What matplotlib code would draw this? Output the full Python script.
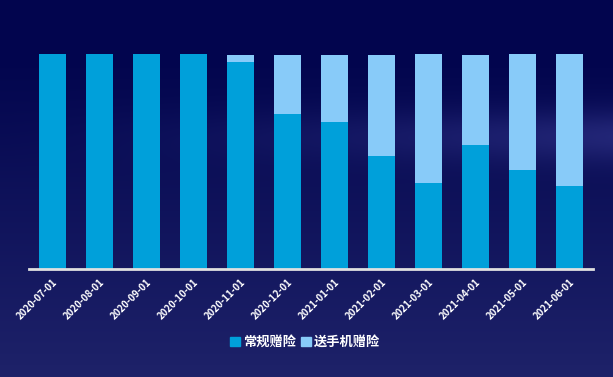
import numpy as np
import matplotlib
matplotlib.use("Agg")
import matplotlib.pyplot as plt
import matplotlib.patches as mpatches

plt.rcParams['font.family'] = ['Noto Sans CJK SC', 'DejaVu Sans']

# ── 数据 ──
months = ["2020-07-01", "2020-08-01", "2020-09-01", "2020-10-01", "2020-11-01", "2020-12-01",
          "2021-01-01", "2021-02-01", "2021-03-01", "2021-04-01", "2021-05-01", "2021-06-01"]
regular = [100, 100, 100, 100, 96.3, 72.1, 68.5, 52.6, 40.0, 57.7, 46.0, 38.6]
phone = [0, 0, 0, 0, 3.2, 27.4, 31.0, 46.9, 60.0, 41.8, 54.0, 61.4]
series_names = ["常规赠险", "送手机赠险"]

C_REG = "#00A0DA"
C_PHONE = "#88CBF9"

fig = plt.figure(figsize=(6.13, 3.77), dpi=100)

# 背景：深蓝渐变
bg = fig.add_axes([0, 0, 1, 1])
bg.axis('off')
yy, xx = np.mgrid[0:1:377j, 0:1:613j]
top = np.array([2, 5, 78]) / 255
bot = np.array([30, 34, 105]) / 255
t = np.clip((yy - 0.15) / 0.85, 0, 1)[..., None]
img = top * (1 - t) + bot * t
band = np.exp(-((yy - 0.36) / 0.07) ** 2) * np.clip(xx, 0, 1) ** 1.5 * 0.22
img = img + band[..., None] * np.array([0.45, 0.45, 0.6])
img = np.clip(img, 0, 1)
bg.imshow(img, aspect='auto', extent=[0, 1, 0, 1], origin='upper')
bg.set_xlim(0, 1)
bg.set_ylim(0, 1)

ax = fig.add_axes([29 / 613, 108 / 377, 564 / 613, 215 / 377])
ax.patch.set_alpha(0)

x = np.arange(len(months))
w = 0.574
ax.bar(x, regular, width=w, color=C_REG, zorder=2)
ax.bar(x, phone, width=w, bottom=regular, color=C_PHONE, zorder=2)

ax.set_xlim(-0.5, len(months) - 0.5)
ax.set_ylim(0, 100)
ax.set_yticks([])
for s in ['top', 'right', 'left']:
    ax.spines[s].set_visible(False)
ax.spines['bottom'].set_color('#e0e0e0')
ax.spines['bottom'].set_linewidth(2)

ax.set_xticks(x)
ax.set_xticklabels(months, rotation=45, ha='right', rotation_mode='anchor',
                   fontsize=7, fontweight='bold', color='white')
ax.tick_params(axis='x', length=0, pad=6)

handles = [mpatches.Patch(color=C_REG, label=series_names[0]),
           mpatches.Patch(color=C_PHONE, label=series_names[1])]
leg = fig.legend(handles=handles, loc='center', bbox_to_anchor=(305 / 613, 1 - 342 / 377),
                 ncol=2, frameon=False, fontsize=9.5, handlelength=0.75, handleheight=0.75,
                 handletextpad=0.2, columnspacing=0.4)
for txt in leg.get_texts():
    txt.set_color('white')
    txt.set_fontweight('bold')

fig.savefig("out.png", dpi=100)
